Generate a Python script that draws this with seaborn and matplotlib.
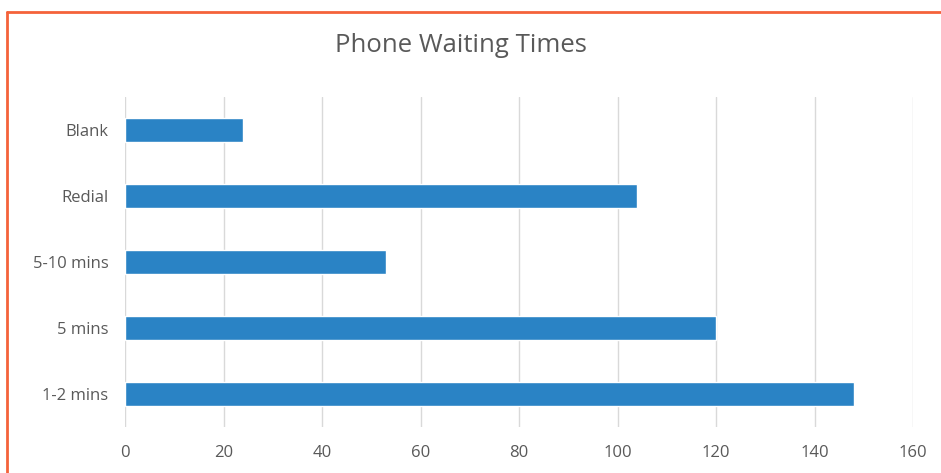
import matplotlib
matplotlib.use("Agg")
import matplotlib.pyplot as plt
import seaborn as sns
import pandas as pd
from matplotlib.lines import Line2D

categories = ["Blank", "Redial", "5-10 mins", "5 mins", "1-2 mins"]
counts = [24, 104, 53, 120, 148]
x_ticks = [0, 20, 40, 60, 80, 100, 120, 140, 160]

df = pd.DataFrame({"category": categories, "count": counts})

sns.set_theme(style="white")
plt.rcParams["font.family"] = ["Open Sans", "DejaVu Sans"]

fig = plt.figure(figsize=(9.41, 4.73), dpi=100)
ax = fig.add_axes([125 / 941, 1 - 427 / 473, (913 - 125) / 941, (427 - 97) / 473])

sns.barplot(data=df, x="count", y="category", order=categories, orient="h",
            color="#2A83C5", saturation=1, width=0.35, ax=ax)

ax.set_xlim(0, 160)
ax.set_ylim(4.5, -0.5)
ax.set_xticks(x_ticks)
ax.set_xticklabels([str(t) for t in x_ticks])
ax.xaxis.grid(True, color="#D9D9D9", linewidth=1)
ax.set_axisbelow(True)
for s in ax.spines.values():
    s.set_visible(False)
ax.set_xlabel("")
ax.set_ylabel("")
ax.tick_params(axis="x", length=0, pad=13, labelsize=12, labelcolor="#595959")
ax.tick_params(axis="y", length=0, pad=12, labelsize=12, labelcolor="#595959")

fig.text(461 / 941, 1 - 45 / 473, "Phone Waiting Times", ha="center", va="center",
         fontsize=18.5, color="#595959")

# orange frame around the chart
frame_color = "#F4623A"
fig.add_artist(Line2D([7 / 941, 7 / 941], [0, 1 - 12 / 473], transform=fig.transFigure,
                      color=frame_color, linewidth=2))
fig.add_artist(Line2D([7 / 941, 1], [1 - 12 / 473, 1 - 12 / 473], transform=fig.transFigure,
                      color=frame_color, linewidth=2))

fig.savefig("out.png", dpi=100)
